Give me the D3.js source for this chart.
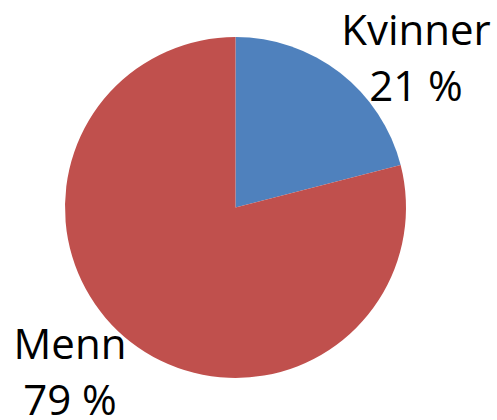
<!doctype html>
<html>
<head>
    <script src="https://cdnjs.cloudflare.com/ajax/libs/d3/7.8.5/d3.min.js"></script>
    <style>
        body { margin: 0; background: #fff; }
        text { font-family: "Open Sans", "Liberation Sans", sans-serif; fill: #000; }
    </style>
</head>
<body>
<script>
    // data
    var categories = ["Kvinner", "Menn"];
    var shares = [21, 79];
    var colors = ["#4F81BD", "#C0504D"];
    var labelPos = [[416, 45], [70, 359]]; // label anchor (center, first baseline)

    var width = 497,
        height = 420,
        cx = 235.5,
        cy = 207.5,
        radius = 170.5;

    var svg = d3.select("body").append("svg")
        .attr("width", width)
        .attr("height", height);

    var pie = d3.pie().sort(null);
    var arc = d3.arc().innerRadius(0).outerRadius(radius);

    var g = svg.append("g")
        .attr("transform", "translate(" + cx + "," + cy + ")");

    g.selectAll("path")
        .data(pie(shares))
        .enter().append("path")
        .attr("d", arc)
        .style("fill", function(d, i) { return colors[i]; });

    // labels
    var labels = svg.selectAll("text.lbl")
        .data(categories)
        .enter().append("text")
        .attr("class", "lbl")
        .attr("text-anchor", "middle")
        .style("font-size", "42px");

    labels.append("tspan")
        .attr("x", function(d, i) { return labelPos[i][0]; })
        .attr("y", function(d, i) { return labelPos[i][1]; })
        .text(function(d) { return d; });

    labels.append("tspan")
        .attr("x", function(d, i) { return labelPos[i][0]; })
        .attr("y", function(d, i) { return labelPos[i][1] + 56; })
        .text(function(d, i) { return shares[i] + " %"; });
</script>
</body>
</html>
